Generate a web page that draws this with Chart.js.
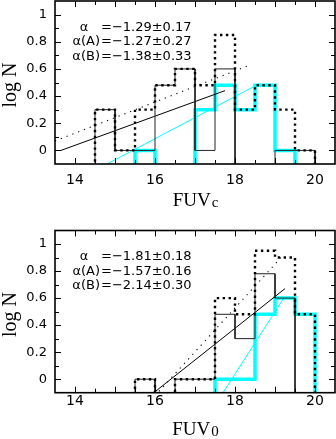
<!DOCTYPE html>
<html>
<head>
<meta charset="utf-8">
<script src="https://cdn.jsdelivr.net/npm/chart.js@4.4.0/dist/chart.umd.min.js"></script>
<style>
html, body { margin: 0; padding: 0; background: #fff; }
#wrap { position: relative; width: 336px; height: 439px; overflow: hidden; }
.panel { position: absolute; left: 0; width: 336px; }
</style>
</head>
<body>
<div id="wrap">
  <div class="panel" style="top:0;height:220px"><canvas id="topChart"></canvas></div>
  <div class="panel" style="top:220px;height:219px"><canvas id="botChart"></canvas></div>
</div>
<script>
// histogram bins, 0.5 mag wide. values are log N, null = empty bin
const binStarts = [14.5, 15, 15.5, 16, 16.5, 17, 17.5, 18, 18.5, 19, 19.5];
const binWidth = 0.5;

// upper panel (FUVc)
const topAll = [0.30, 0, 0.30, 0.48, 0.60, 0.48, 0.85, 0.30, 0.48, 0.30, 0];
const topA   = [0.30, 0, 0, 0.48, 0.60, 0, 0.60, null, null, 0, 0];
const topB   = [null, null, 0, null, null, 0.30, 0.48, 0.30, 0.48, 0, null];
const topFitAll = [[13.5, 0.07], [18.3, 0.62]];
const topFitA   = [[13.65, 0], [17.75, 0.44]];
const topFitB   = [[14.8, -0.1], [18.47, 0.47]];
const topValues = ['=\u22121.29\u00b10.17', '=\u22121.27\u00b10.27', '=\u22121.38\u00b10.33'];

// lower panel (FUV0)
const botAll = [null, null, 0, null, 0, 0, 0.60, 0.48, 0.95, 0.90, 0.48];
const botA   = [null, null, 0, null, 0, 0, 0.48, 0.30, 0.78, 0.60, null];
const botB   = [null, null, null, null, null, null, 0, 0, 0.48, 0.60, 0.48];
const botFitAll = [[16.1, -0.09], [19.15, 0.9]];
const botFitA   = [[15.97, -0.1], [19.25, 0.67]];
const botFitB   = [[17.7, -0.1], [19.22, 0.6]];
const botValues = ['=\u22121.81\u00b10.18', '=\u22121.57\u00b10.16', '=\u22122.14\u00b10.30'];

const alphaNames = ['\u03b1', '\u03b1(A)', '\u03b1(B)'];
const xTicks = [14, 16, 18, 20];
const yTicks = [0, 0.2, 0.4, 0.6, 0.8, 1];
const yTitle = 'log N';
const xTitle = 'FUV';

const FLOOR = -0.3; // empty bins drop below the axis

function steps(vals) {
  const pts = [{x: binStarts[0], y: FLOOR}];
  vals.forEach((v, i) => {
    const y = v === null ? FLOOR : v;
    pts.push({x: binStarts[i], y: y}, {x: binStarts[i] + binWidth, y: y});
  });
  pts.push({x: binStarts[binStarts.length - 1] + binWidth, y: FLOOR});
  return pts;
}

function line(p) {
  return p.map(q => ({x: q[0], y: q[1]}));
}

const CYAN = '#00ffff';

// frame, inward ticks, axis titles and the alpha text
const framePlugin = {
  id: 'frame',
  afterDraw(chart, args, o) {
    const {ctx, chartArea: a, scales: {x, y}} = chart;
    ctx.save();
    ctx.strokeStyle = '#000';
    ctx.lineWidth = 1;
    for (let i = 0; i <= 12; i++) {
      const v = 14 + i * 0.5;
      const px = Math.round(x.getPixelForValue(v)) + 0.5;
      const len = i % 2 === 0 ? 6 : 4;
      ctx.beginPath();
      ctx.moveTo(px, a.bottom); ctx.lineTo(px, a.bottom - len);
      ctx.moveTo(px, a.top); ctx.lineTo(px, a.top + len);
      ctx.stroke();
    }
    for (let i = 0; i <= 10; i++) {
      const v = i * 0.1;
      const py = Math.round(y.getPixelForValue(v)) + 0.5;
      const len = i % 2 === 0 ? 6 : 4;
      ctx.beginPath();
      ctx.moveTo(a.left, py); ctx.lineTo(a.left + len, py);
      ctx.moveTo(a.right, py); ctx.lineTo(a.right - len, py);
      ctx.stroke();
    }
    ctx.lineWidth = 1.6;
    ctx.strokeRect(a.left, a.top, a.right - a.left, a.bottom - a.top);

    // alpha text
    ctx.fillStyle = '#000';
    ctx.font = '13px "DejaVu Sans"';
    ctx.textBaseline = 'middle';
    for (let i = 0; i < 3; i++) {
      const ty = a.top + 26.5 + i * 14.4;
      if (i === 0) {
        ctx.textAlign = 'center';
        ctx.fillText(alphaNames[i], a.left + 29, ty);
      } else {
        ctx.textAlign = 'right';
        ctx.fillText(alphaNames[i], a.left + 45, ty);
      }
      ctx.textAlign = 'left';
      ctx.fillText(o.values[i], a.left + 46, ty);
    }

    // x title with subscript
    ctx.textBaseline = 'alphabetic';
    ctx.font = '19px "Liberation Serif"';
    const w1 = ctx.measureText(xTitle).width;
    ctx.font = '15px "Liberation Serif"';
    const w2 = ctx.measureText(o.sub).width;
    const x0 = (a.left + a.right) / 2 - (w1 + w2) / 2;
    const by = a.bottom + 42;
    ctx.textAlign = 'left';
    ctx.font = '19px "Liberation Serif"';
    ctx.fillText(xTitle, x0, by);
    ctx.font = '15px "Liberation Serif"';
    ctx.fillText(o.sub, x0 + w1 + 1, by + 1);

    // y title
    ctx.translate(16, a.top + 84);
    ctx.rotate(-Math.PI / 2);
    ctx.textAlign = 'center';
    ctx.font = '20px "Liberation Serif"';
    ctx.fillText(yTitle, 0, 0);
    ctx.restore();
  }
};

function makeChart(id, all, a, b, fitAll, fitA, fitB, values, sub, padTop, xHeight, xPad) {
  return new Chart(document.getElementById(id), {
    type: 'scatter',
    data: {
      datasets: [
        {data: steps(all), showLine: true, borderColor: '#000', borderWidth: 2.4, borderDash: [2.4, 3.5], pointRadius: 0},
        {data: steps(a), showLine: true, borderColor: '#222', borderWidth: 1, pointRadius: 0},
        {data: line(fitAll), showLine: true, borderColor: '#000', borderWidth: 1.1, borderDash: [1.2, 5], pointRadius: 0},
        {data: line(fitA), showLine: true, borderColor: '#000', borderWidth: 1, pointRadius: 0},
        {data: line(fitB), showLine: true, borderColor: CYAN, borderWidth: 1, pointRadius: 0},
        {data: steps(b), showLine: true, borderColor: CYAN, borderWidth: 3.5, pointRadius: 0}
      ]
    },
    options: {
      responsive: true,
      maintainAspectRatio: false,
      animation: false,
      layout: {padding: {top: padTop, right: 1, left: 0, bottom: 0}},
      plugins: {
        legend: {display: false},
        tooltip: {enabled: false},
        frame: {values: values, sub: sub}
      },
      scales: {
        x: {
          type: 'linear', min: 13.5, max: 20.5,
          grid: {display: false, drawTicks: false},
          border: {display: false},
          afterBuildTicks: s => { s.ticks = xTicks.map(v => ({value: v})); },
          afterFit: s => { s.height = xHeight; s.paddingLeft = 0; s.paddingRight = 0; },
          ticks: {color: '#000', padding: xPad, maxRotation: 0, font: {family: 'DejaVu Sans', size: 14}}
        },
        y: {
          type: 'linear', min: -0.1, max: 1.1,
          grid: {display: false, drawTicks: false},
          border: {display: false},
          afterBuildTicks: s => { s.ticks = yTicks.map(v => ({value: v})); },
          afterFit: s => { s.width = 55; s.paddingTop = 0; s.paddingBottom = 0; },
          ticks: {color: '#000', padding: 8, font: {family: 'DejaVu Sans', size: 13},
            callback: v => (v === 0 || v === 1) ? String(v) : v.toFixed(1)}
        }
      }
    },
    plugins: [framePlugin]
  });
}

makeChart('topChart', topAll, topA, topB, topFitAll, topFitA, topFitB, topValues, 'c', 1, 56, 8);
makeChart('botChart', botAll, botA, botB, botFitAll, botFitA, botFitB, botValues, '0', 10.5, 46.3, 0);
</script>
</body>
</html>
